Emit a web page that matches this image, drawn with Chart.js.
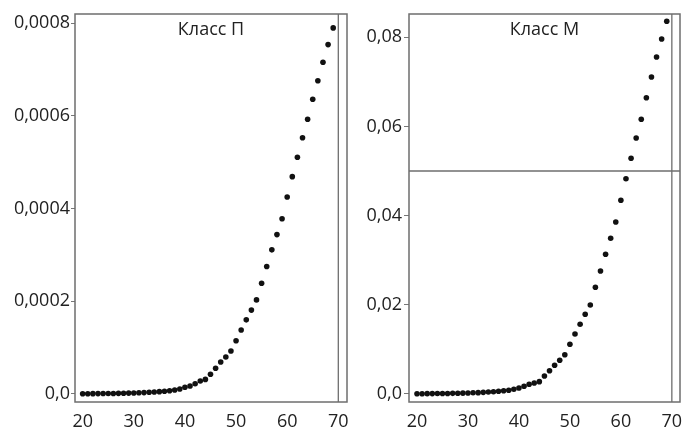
<!DOCTYPE html>
<html><head><meta charset="utf-8">
<script src="https://cdn.jsdelivr.net/npm/chart.js@4"></script>
<style>
html,body{margin:0;padding:0;background:#fff;}
#wrap{position:relative;width:682px;height:427px;overflow:hidden;}
canvas{position:absolute;left:0;top:0;}
</style></head><body>
<div id="wrap"><canvas id="cP" width="682" height="427"></canvas><canvas id="cM" width="682" height="427"></canvas></div>
<script>
const ages = [20,21,22,23,24,25,26,27,28,29,30,31,32,33,34,35,36,37,38,39,40,41,42,43,44,45,46,47,48,49,50,51,52,53,54,55,56,57,58,59,60,61,62,63,64,65,66,67,68,69];
const classP = [0.0000005,0.0000006,0.0000007,0.0000008,0.0000009,0.000001,0.0000012,0.0000014,0.0000016,0.0000019,
  0.0000022,0.0000026,0.000003,0.0000036,0.0000043,0.000005,0.000006,0.000007,0.0000086,0.0000108,
  0.0000145,0.0000173,0.0000222,0.000028,0.0000315,0.0000425,0.0000554,0.000069,0.0000798,0.0000928,
  0.000115,0.000138,0.00016,0.000181,0.000203,0.000239,0.000275,0.000311,0.000344,0.000378,
  0.000425,0.000469,0.000511,0.000553,0.000593,0.000636,0.000676,0.000716,0.000754,0.00079];
const classM = [0.00005,0.00006,0.00007,0.00008,0.00009,0.0001,0.00012,0.00014,0.00016,0.00019,
  0.00022,0.00026,0.0003,0.00036,0.00043,0.0005,0.0006,0.00072,0.00083,0.00105,
  0.00135,0.00173,0.00217,0.00247,0.00276,0.00404,0.00522,0.00643,0.00756,0.00881,
  0.01114,0.01345,0.01563,0.01787,0.01995,0.02392,0.02758,0.03132,0.03491,0.03856,
  0.04343,0.04827,0.05284,0.0574,0.06159,0.06643,0.07107,0.07555,0.07959,0.08356];
const xTicks = [20,30,40,50,60,70];
const xLabels = ['20','30','40','50','60','70'];
const yTicksP = [0,0.0002,0.0004,0.0006,0.0008];
const yLabelsP = ['0,0','0,0002','0,0004','0,0006','0,0008'];
const yTicksM = [0,0.02,0.04,0.06,0.08];
const yLabelsM = ['0,0','0,02','0,04','0,06','0,08'];
const titleP = 'Класс П';
const titleM = 'Класс М';
const refAge = 70;
const refLevelM = 0.05;

Chart.defaults.font.family = "'Open Sans', sans-serif";
Chart.defaults.font.size = 18;
Chart.defaults.color = '#222';

function makeChart(id, values, yTicks, yLabels, xr, yr, title, yWidth, padRight, hLine, tickLen, tickPad) {
  const deco = {
    id: 'deco',
    beforeDatasetsDraw(chart) {
      const {ctx, chartArea: a, scales} = chart;
      ctx.save();
      ctx.strokeStyle = '#6e6e6e';
      ctx.lineWidth = 1.5;
      ctx.strokeRect(a.left, a.top, a.right - a.left, a.bottom - a.top);
      ctx.lineWidth = 1.3;
      const vx = scales.x.getPixelForValue(refAge);
      ctx.beginPath(); ctx.moveTo(vx, a.top); ctx.lineTo(vx, a.bottom); ctx.stroke();
      if (hLine !== null) {
        const hy = scales.y.getPixelForValue(hLine);
        ctx.beginPath(); ctx.moveTo(a.left, hy); ctx.lineTo(a.right, hy); ctx.stroke();
      }
      ctx.fillStyle = '#222';
      ctx.font = "18px 'Open Sans', sans-serif";
      ctx.textAlign = 'center';
      ctx.textBaseline = 'middle';
      ctx.fillText(title, (a.left + a.right) / 2, a.top + 16);
      ctx.restore();
    }
  };
  return new Chart(document.getElementById(id), {
    type: 'scatter',
    data: { datasets: [{
      data: ages.map((a, i) => ({x: a, y: values[i]})),
      pointRadius: 2.8, pointBackgroundColor: '#111', pointBorderWidth: 0, showLine: false
    }]},
    options: {
      responsive: false, animation: false, devicePixelRatio: 1,
      layout: { autoPadding: false, padding: { top: 14, right: padRight, left: 0, bottom: 0 } },
      plugins: { legend: { display: false }, tooltip: { enabled: false } },
      scales: {
        x: {
          type: 'linear', min: xr[0], max: xr[1],
          grid: { display: false }, border: { display: false },
          ticks: { padding: 1, maxRotation: 0, autoSkip: false, callback: (v) => xLabels[xTicks.indexOf(v)] },
          afterBuildTicks: (s) => { s.ticks = xTicks.map(v => ({value: v})); },
          afterFit: (s) => { s.height = 25; s.paddingLeft = 0; s.paddingRight = 0; }
        },
        y: {
          type: 'linear', min: yr[0], max: yr[1],
          grid: { display: true, drawOnChartArea: false, drawTicks: true, tickLength: tickLen, color: '#777' },
          border: { display: false },
          ticks: { padding: tickPad, callback: (v) => yLabels[yTicks.indexOf(v)] },
          afterBuildTicks: (s) => { s.ticks = yTicks.map(v => ({value: v})); },
          afterFit: (s) => { s.width = yWidth; s.paddingTop = 0; s.paddingBottom = 0; }
        }
      }
    },
    plugins: [deco]
  });
}

makeChart('cP', classP, yTicksP, yLabelsP, [18.5, 71.7], [-0.0000173, 0.00082], titleP, 75, 682 - 347, null, 4, 1);
makeChart('cM', classM, yTicksM, yLabelsM, [18.43, 71.6], [-0.0018, 0.0852], titleM, 409, 2, refLevelM, 5, 2);
</script>
</body></html>
